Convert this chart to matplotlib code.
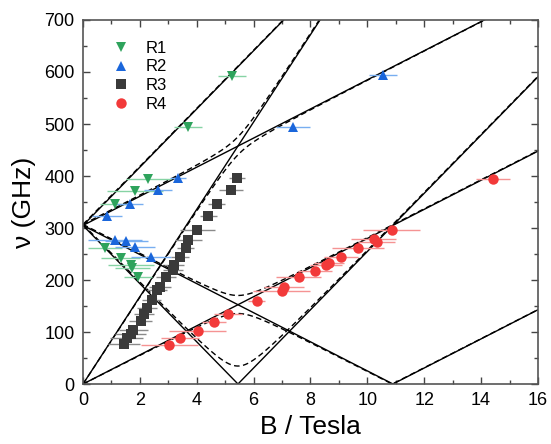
import numpy as np
import matplotlib
matplotlib.use("Agg")
import matplotlib.pyplot as plt
from matplotlib.lines import Line2D

plt.rcParams["font.family"] = ["Liberation Sans", "DejaVu Sans"]

# ---- measured resonances (field in T, frequency in GHz, field error in T) ---- #
r1_b = [5.24, 3.69, 2.30, 1.82, 1.11, 0.77, 1.32, 1.68, 1.74, 1.93]
r1_f = [592, 494, 394, 372, 346, 262, 243, 229, 223, 206]
r1_e = [0.50, 0.50, 0.78, 0.98, 0.50, 0.60, 0.70, 0.80, 0.60, 0.50]

r2_b = [10.56, 7.37, 3.34, 2.64, 1.64, 0.84, 1.12, 1.53, 1.83, 2.38]
r2_f = [594, 495, 397, 374, 347, 323, 277, 276, 263, 245]
r2_e = [0.49, 0.60, 0.28, 0.50, 0.47, 0.53, 0.94, 0.75, 0.70, 0.70]

r3_b = [5.40, 5.20, 4.70, 4.41, 4.02, 3.71, 3.62, 3.41, 3.20, 3.18, 2.92,
        2.71, 2.61, 2.41, 2.24, 2.14, 2.03, 1.77, 1.68, 1.54, 1.44]
r3_f = [396, 374, 347, 323, 296, 277, 261, 244, 229, 220, 206,
        187, 181, 162, 147, 135, 122, 103, 96, 88, 77]
r3_e = [0.28, 0.41, 0.31, 0.29, 0.62, 0.49, 0.30, 0.31, 0.35, 0.35, 0.35,
        0.38, 0.35, 0.35, 0.35, 0.35, 0.40, 0.50, 0.55, 0.58, 0.55]

r4_b = [3.04, 3.41, 4.04, 4.61, 5.10, 6.11, 6.99, 7.06, 7.58, 8.17, 8.55,
        8.66, 9.08, 9.67, 10.22, 10.33, 10.85, 14.42]
r4_f = [76, 88, 102, 120, 135, 160, 179, 186, 206, 218, 229,
        232, 244, 261, 278, 274, 296, 394]
r4_e = [1.00, 0.68, 1.00, 0.41, 0.50, 0.29, 1.00, 0.70, 0.79, 0.60, 0.55,
        0.53, 0.60, 0.90, 0.80, 0.65, 1.00, 0.60]

# ---- S = 3/2 spin Hamiltonian parameters ---- #
D = 152.5        # GHz, zero-field splitting 2D
E_RH = 10.0      # GHz, rhombic term for the dashed set
G_MUB = 2.0 * 13.996   # g * muB / h, GHz/T

B = np.linspace(0, 16, 1601)


def levels(b, e):
    """Four levels, grouped in the two blocks coupled by E."""
    h = G_MUB * b
    c = np.sqrt(3) * e
    # block {3/2, -1/2}
    a1, a2 = D + 1.5 * h, -D - 0.5 * h
    ma, da = (a1 + a2) / 2, np.sqrt(((a1 - a2) / 2) ** 2 + c ** 2)
    # block {1/2, -3/2}
    b1, b2 = -D + 0.5 * h, D - 1.5 * h
    mb, db = (b1 + b2) / 2, np.sqrt(((b1 - b2) / 2) ** 2 + c ** 2)
    if e == 0:
        return [a1, a2, b1, b2]
    return [ma + da, ma - da, mb + db, mb - db]


def transitions(b, e):
    lv = levels(b, e)
    out = []
    for i in range(4):
        for j in range(i + 1, 4):
            out.append(np.abs(lv[i] - lv[j]))
    return out


fig = plt.figure(figsize=(5.51, 4.44), dpi=100)
ax = fig.add_axes([0.1506, 0.135, 0.8258, 0.82])

for f in transitions(B, E_RH):
    ax.plot(B, f, color="black", lw=1.0, ls=(0, (4, 2.5)), zorder=2)
for f in transitions(B, 0.0):
    ax.plot(B, f, color="black", lw=1.0, zorder=2)

sets = [
    (r1_b, r1_f, r1_e, "v", "#2ea35c", "#86d3a4", "R1"),
    (r2_b, r2_f, r2_e, "^", "#1a66db", "#78aef0", "R2"),
    (r3_b, r3_f, r3_e, "s", "#3a3a3a", "#8a8a8a", "R3"),
    (r4_b, r4_f, r4_e, "o", "#f23a3a", "#f59393", "R4"),
]
for xb, yf, xe, mk, col, ecol, lab in sets:
    ax.errorbar(xb, yf, xerr=xe, fmt=mk, color=col, ecolor=ecol, ms=7.5,
                mew=0, elinewidth=1.0, capsize=3, capthick=1.0,
                label=lab, zorder=3)

ax.set_xlim(0, 16)
ax.set_ylim(0, 700)
ax.set_xticks(np.arange(0, 17, 2))
ax.set_xticks(np.arange(0, 17, 1), minor=True)
ax.set_yticks(np.arange(0, 701, 100))
ax.set_yticks(np.arange(0, 701, 50), minor=True)
ax.tick_params(which="both", direction="in", top=True, right=True,
               labelsize=13, width=1.0, color="#444444")
ax.tick_params(which="major", length=5, pad=6)
ax.tick_params(which="minor", length=3)
for sp in ax.spines.values():
    sp.set_color("#555555")
    sp.set_linewidth(1.2)

ax.set_xlabel("B / Tesla", fontsize=19, labelpad=4)
ax.set_ylabel("ν (GHz)", fontsize=19, labelpad=6)

# legend without error bars, markers only
handles = [Line2D([], [], ls="none", marker=mk, color=col, ms=7.5, mew=0)
           for _, _, _, mk, col, _, _ in sets]
labels = [s[-1] for s in sets]
ax.legend(handles, labels, loc="upper left", bbox_to_anchor=(0.035, 0.975),
          frameon=False, fontsize=12, handlelength=1.2, handletextpad=0.9,
          labelspacing=0.22, borderaxespad=0.3)

fig.savefig("out.png", dpi=100)
